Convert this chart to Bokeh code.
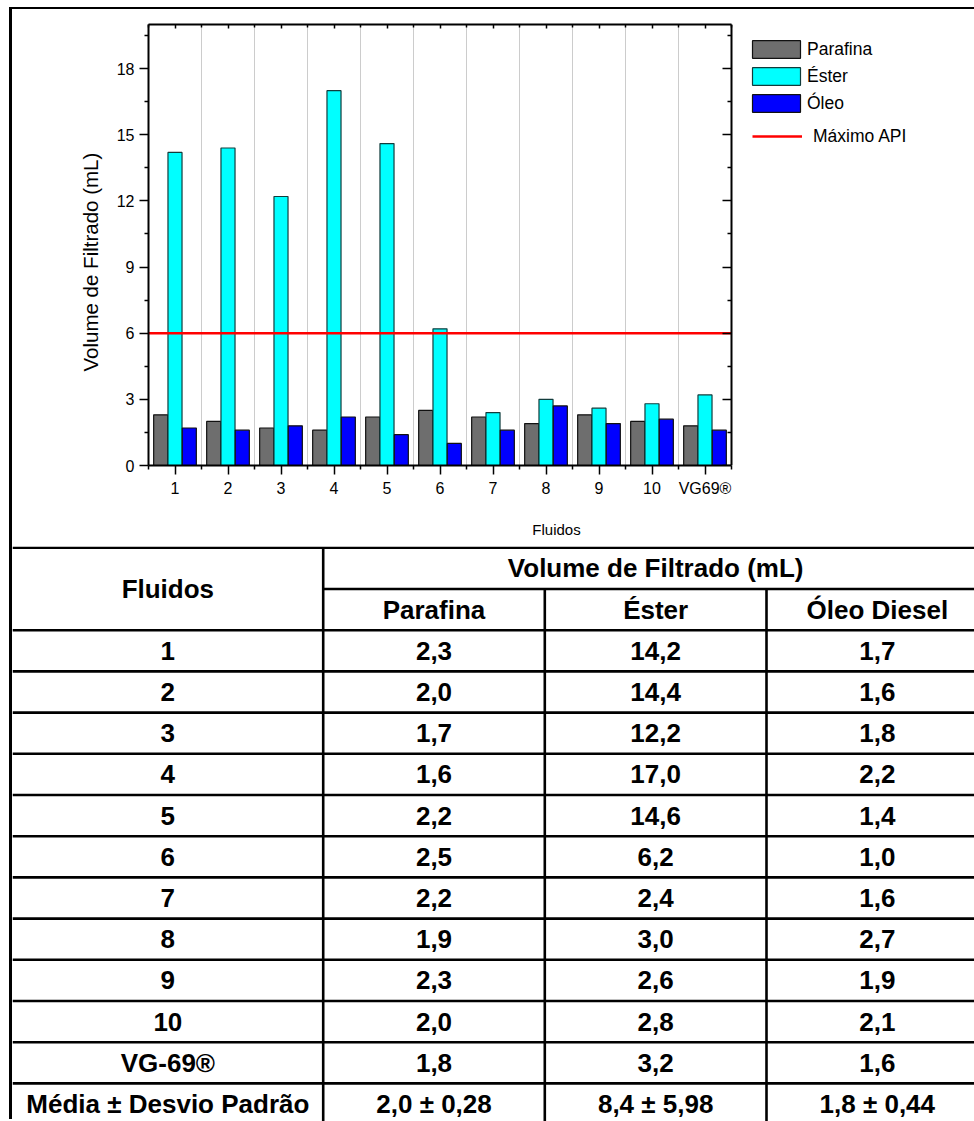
import numpy as np
from bokeh.plotting import figure
from bokeh.models import FixedTicker, LinearAxis, Legend, LegendItem, Range1d
from bokeh.layouts import column
from bokeh.embed import file_html
from bokeh.resources import INLINE
from bokeh.core.properties import value

# ---------------- data ----------------
fluidos = ["1", "2", "3", "4", "5", "6", "7", "8", "9", "10", "VG69®"]
parafina = [2.3, 2.0, 1.7, 1.6, 2.2, 2.5, 2.2, 1.9, 2.3, 2.0, 1.8]
ester = [14.2, 14.4, 12.2, 17.0, 14.6, 6.2, 2.4, 3.0, 2.6, 2.8, 3.2]
oleo = [1.7, 1.6, 1.8, 2.2, 1.4, 1.0, 1.6, 2.7, 1.9, 2.1, 1.6]
maximo_api = 6.0
y_major = [0, 3, 6, 9, 12, 15, 18]
y_minor = [1.5, 4.5, 7.5, 10.5, 13.5, 16.5, 19.5]

tabela_fluidos = ["1", "2", "3", "4", "5", "6", "7", "8", "9", "10", "VG-69®"]
tabela_media = ["2,0 ± 0,28", "8,4 ± 5,98", "1,8 ± 0,44"]
tabela_colunas = ["Parafina", "Éster", "Óleo Diesel"]

FONT = "Liberation Sans"
W = 962
CH = 537
TH = 575

# ---------------- chart ----------------
n = len(fluidos)
x = np.arange(n)
x_lo, x_hi = -0.5, n - 0.5
MB_L, MB_R = 136, 10
plot_px = 583.0                       # pixel width of the plotted box
frame_w = W - MB_L - MB_R
x_end = x_lo + frame_w * (x_hi - x_lo) / plot_px   # room to the right for the legend

p = figure(width=W, height=CH, output_backend="svg", toolbar_location=None,
           x_range=Range1d(x_lo, x_end), y_range=Range1d(0, 20),
           min_border_left=MB_L, min_border_right=MB_R,
           min_border_top=15, min_border_bottom=81, frame_align=False)
p.background_fill_color = "white"
p.border_fill_color = "white"
p.outline_line_color = None

p.ygrid.visible = False
p.xgrid.ticker = FixedTicker(ticks=list(x[:-1] + 0.5))
p.xgrid.grid_line_color = "#cccccc"
p.xgrid.grid_line_width = 1

bw = 0.265
off = 0.27
r_par = p.vbar(x=x - off, top=parafina, width=bw, fill_color="#6e6e6e", line_color="#111111", line_width=1.2)
r_est = p.vbar(x=x, top=ester, width=bw, fill_color="#00ffff", line_color="#123c3c", line_width=1.2)
r_ole = p.vbar(x=x + off, top=oleo, width=bw, fill_color="#0000ff", line_color="#111111", line_width=1.2)
r_api = p.line(x=[x_lo - 0.05, x_hi], y=[maximo_api, maximo_api], line_color="#ff0000", line_width=2.5)

cat_ticker = FixedTicker(ticks=list(x), minor_ticks=list(np.arange(x_lo, x_hi + 0.5, 1.0)))
val_ticker = FixedTicker(ticks=y_major, minor_ticks=y_minor)

xa = p.xaxis[0]
xa.ticker = cat_ticker
xa.bounds = (x_lo, x_hi)
xa.major_label_overrides = {int(i): f for i, f in enumerate(fluidos)}
xa.axis_label = "Fluidos"
xa.axis_label_standoff = 21
xa.axis_label_text_font_size = "15px"

ya = p.yaxis[0]
ya.ticker = val_ticker
ya.axis_label = "Volume de Filtrado (mL)" + "\u00a0" * 6
ya.axis_label_standoff = 12
ya.axis_label_text_font_size = "20.5px"

for ax in (xa, ya):
    ax.axis_line_width = 2
    ax.major_tick_out = 9
    ax.major_tick_in = 0
    ax.minor_tick_out = 4
    ax.minor_tick_in = 0
    ax.major_tick_line_width = 1.5
    ax.minor_tick_line_width = 1.5
    ax.major_label_standoff = 5
    ax.major_label_text_font = FONT
    ax.major_label_text_font_size = "16px"
    ax.major_label_text_color = "black"
    ax.axis_label_text_font = FONT
    ax.axis_label_text_font_style = "normal"
    ax.axis_label_text_color = "black"

top_ax = LinearAxis(ticker=cat_ticker, bounds=(x_lo, x_hi),
                    major_label_text_font_size="1px", major_label_text_color=None,
                    major_tick_in=4, major_tick_out=0, minor_tick_in=3, minor_tick_out=0,
                    axis_line_width=2, major_label_standoff=0,
                    major_tick_line_width=1.5, minor_tick_line_width=1.5)
right_ax = LinearAxis(ticker=val_ticker, fixed_location=x_hi,
                      major_label_text_font_size="1px", major_label_text_color=None,
                      major_tick_in=9, major_tick_out=0, minor_tick_in=4, minor_tick_out=0,
                      axis_line_width=2, major_label_standoff=0,
                      major_tick_line_width=1.5, minor_tick_line_width=1.5)
p.add_layout(top_ax, "above")
p.add_layout(right_ax, "right")

common = dict(padding=0, margin=0, border_line_color=None, background_fill_alpha=0,
              label_text_font=FONT, label_text_font_size="17.5px", label_text_color="black")
leg1 = Legend(items=[LegendItem(label="Parafina", renderers=[r_par]),
                     LegendItem(label="Éster", renderers=[r_est]),
                     LegendItem(label="Óleo", renderers=[r_ole])],
              location=(598, 351), spacing=5,
              glyph_width=60, glyph_height=22, label_height=18, label_standoff=1, **common)
leg2 = Legend(items=[LegendItem(label="Máximo API", renderers=[r_api])],
              location=(604, 318),
              glyph_width=50, glyph_height=22, label_height=18, label_standoff=11, **common)
p.add_layout(leg1, "center")
p.add_layout(leg2, "center")

# ---------------- table ----------------
t = figure(width=W, height=TH, output_backend="svg", toolbar_location=None,
           x_range=Range1d(0, W), y_range=Range1d(TH, 0),
           x_axis_location=None, y_axis_location=None, frame_align=False,
           min_border=0, min_border_left=0, min_border_right=0, min_border_top=0, min_border_bottom=0)
t.grid.visible = False
t.outline_line_color = None
t.background_fill_color = "white"
t.border_fill_color = "white"

RH = 41.2
Y0 = 1.3
c1, c2, c3 = 310.7, 532.3, 754.0
cw = c2 - c1
n_rows = 2 + len(tabela_fluidos) + 1
row_y = [Y0 + RH * k for k in range(n_rows + 1)]

hx0, hx1, hy = [], [], []
for k in range(n_rows + 1):
    hx0.append(c1 if k == 1 else 0)
    hx1.append(W)
    hy.append(row_y[k])
t.segment(x0=hx0, y0=hy, x1=hx1, y1=hy, line_color="black", line_width=2.6)
t.segment(x0=[c1, c2, c3], y0=[row_y[0], row_y[1], row_y[1]], x1=[c1, c2, c3], y1=[TH, TH, TH],
          line_color="black", line_width=2.6)

col_cx = [c1 / 2, (c1 + c2) / 2, (c2 + c3) / 2, c3 + cw / 2]

def fmt(v):
    return f"{v:.1f}".replace(".", ",")

tx, ty, tt = [], [], []
tx.append(col_cx[0]); ty.append((row_y[0] + row_y[2]) / 2); tt.append("Fluidos")
tx.append(col_cx[2]); ty.append((row_y[0] + row_y[1]) / 2); tt.append("Volume de Filtrado (mL)")
for j, name in enumerate(tabela_colunas):
    tx.append(col_cx[j + 1]); ty.append((row_y[1] + row_y[2]) / 2); tt.append(name)
for i, f in enumerate(tabela_fluidos):
    yc = (row_y[2 + i] + row_y[3 + i]) / 2
    for j, s in enumerate([f, fmt(parafina[i]), fmt(ester[i]), fmt(oleo[i])]):
        tx.append(col_cx[j]); ty.append(yc); tt.append(s)
yc = (row_y[n_rows - 1] + row_y[n_rows]) / 2
for j, s in enumerate(["Média ± Desvio Padrão"] + tabela_media):
    tx.append(col_cx[j]); ty.append(yc); tt.append(s)

t.text(x=tx, y=ty, text=tt, text_font=value(FONT), text_font_style="bold", text_font_size="26px",
       text_align="center", text_baseline="middle", text_color="black")

layout = column(p, t, margin=(9, 0, 0, 12),
                styles={"box-shadow": "-3px -2px 0 0 #000000, 0 -2px 0 0 #000000"})

open("out.html", "w").write(file_html(layout, INLINE))
